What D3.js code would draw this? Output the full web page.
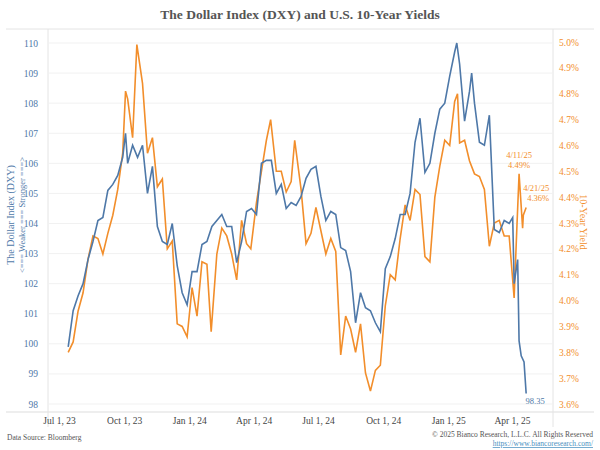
<!DOCTYPE html>
<html><head><meta charset="utf-8">
<script src="https://cdn.jsdelivr.net/npm/d3@7"></script>
<style>body{margin:0;background:#fff}svg{font-family:"Liberation Serif","DejaVu Serif",serif}</style>
</head><body><svg id="c" width="600" height="450"></svg>
<script>
const dxyDates=["2023-07-14","2023-07-21","2023-07-28","2023-08-04","2023-08-11","2023-08-18","2023-08-25","2023-09-01","2023-09-08","2023-09-15","2023-09-22","2023-09-29","2023-10-03","2023-10-06","2023-10-13","2023-10-20","2023-10-27","2023-11-03","2023-11-10","2023-11-17","2023-11-24","2023-12-01","2023-12-08","2023-12-15","2023-12-22","2023-12-29",
"2024-01-05","2024-01-12","2024-01-19","2024-01-26","2024-02-02","2024-02-09","2024-02-16","2024-02-23","2024-03-01","2024-03-08","2024-03-15","2024-03-22","2024-03-29","2024-04-05","2024-04-12","2024-04-19","2024-04-26","2024-05-03","2024-05-10","2024-05-17","2024-05-24","2024-05-31","2024-06-07","2024-06-14","2024-06-21","2024-06-28","2024-07-05","2024-07-12","2024-07-19","2024-07-26","2024-08-02","2024-08-09","2024-08-16","2024-08-23","2024-08-30","2024-09-06","2024-09-13","2024-09-20","2024-09-27","2024-10-04","2024-10-11","2024-10-18","2024-10-25","2024-11-01","2024-11-08","2024-11-15","2024-11-22","2024-11-29","2024-12-06","2024-12-13","2024-12-20","2024-12-27",
"2025-01-03","2025-01-10","2025-01-13","2025-01-17","2025-01-24","2025-01-31","2025-02-03","2025-02-07","2025-02-14","2025-02-21","2025-02-28","2025-03-07","2025-03-14","2025-03-21","2025-03-28","2025-04-02","2025-04-04","2025-04-09","2025-04-11","2025-04-14","2025-04-18","2025-04-21"];
const dxyValues=[99.9,101.1,101.6,102.0,102.8,103.4,104.1,104.2,105.1,105.3,105.6,106.2,107.0,106.0,106.6,106.2,106.6,105.0,105.9,103.9,103.4,103.3,104.0,102.6,101.7,101.3,
102.4,102.4,103.3,103.4,103.9,104.1,104.3,103.9,103.9,102.7,103.4,104.4,104.5,104.3,106.0,106.1,106.1,105.0,105.3,104.5,104.7,104.6,104.9,105.5,105.8,105.9,104.9,104.1,104.4,104.3,103.2,103.1,102.4,100.7,101.7,101.2,101.1,100.7,100.4,102.5,102.9,103.5,104.3,104.3,105.0,106.7,107.5,105.7,106.0,107.0,107.8,108.0,
108.9,109.7,110.0,109.3,107.4,108.4,109.0,108.0,106.7,106.6,107.6,103.8,103.7,104.1,104.0,104.2,102.0,102.8,100.1,99.6,99.4,98.35];
const ylDates=["2023-07-14","2023-07-21","2023-07-28","2023-08-04","2023-08-11","2023-08-18","2023-08-25","2023-09-01","2023-09-08","2023-09-15","2023-09-22","2023-09-29","2023-10-03","2023-10-06","2023-10-13","2023-10-19","2023-10-27","2023-11-03","2023-11-10","2023-11-17","2023-11-24","2023-12-01","2023-12-08","2023-12-15","2023-12-22","2023-12-29",
"2024-01-05","2024-01-12","2024-01-19","2024-01-26","2024-02-01","2024-02-09","2024-02-16","2024-02-23","2024-03-01","2024-03-08","2024-03-15","2024-03-22","2024-03-28","2024-04-05","2024-04-12","2024-04-19","2024-04-25","2024-05-03","2024-05-10","2024-05-17","2024-05-24","2024-05-29","2024-06-07","2024-06-14","2024-06-21","2024-06-28","2024-07-05","2024-07-12","2024-07-19","2024-07-26","2024-08-02","2024-08-09","2024-08-16","2024-08-23","2024-08-30","2024-09-06","2024-09-13","2024-09-20","2024-09-27","2024-10-04","2024-10-11","2024-10-18","2024-10-25","2024-11-01","2024-11-08","2024-11-15","2024-11-22","2024-11-29","2024-12-06","2024-12-13","2024-12-20","2024-12-27",
"2025-01-03","2025-01-10","2025-01-14","2025-01-17","2025-01-24","2025-01-31","2025-02-07","2025-02-14","2025-02-21","2025-02-28","2025-03-07","2025-03-14","2025-03-21","2025-03-28","2025-04-04","2025-04-08","2025-04-11","2025-04-16","2025-04-17","2025-04-21"];
const ylValues=[3.80,3.84,3.96,4.03,4.16,4.25,4.24,4.18,4.26,4.33,4.43,4.57,4.81,4.78,4.63,4.99,4.84,4.57,4.63,4.44,4.47,4.20,4.23,3.91,3.90,3.86,
4.05,3.94,4.15,4.14,3.88,4.18,4.28,4.25,4.18,4.08,4.31,4.22,4.20,4.38,4.50,4.62,4.70,4.50,4.50,4.42,4.46,4.62,4.43,4.22,4.26,4.36,4.27,4.18,4.24,4.19,3.79,3.94,3.89,3.80,3.91,3.72,3.65,3.73,3.75,3.98,4.10,4.08,4.24,4.37,4.31,4.43,4.41,4.17,4.15,4.40,4.52,4.62,
4.60,4.77,4.80,4.61,4.62,4.54,4.49,4.48,4.43,4.21,4.30,4.31,4.25,4.25,4.01,4.29,4.49,4.28,4.33,4.36];
const xTicks=["2023-07-01","2023-10-01","2024-01-01","2024-04-01","2024-07-01","2024-10-01","2025-01-01","2025-04-01"];
const xTickLabels=["Jul 1, 23","Oct 1, 23","Jan 1, 24","Apr 1, 24","Jul 1, 24","Oct 1, 24","Jan 1, 25","Apr 1, 25"];
const leftTicks=[98,99,100,101,102,103,104,105,106,107,108,109,110];
const rightTicks=[3.6,3.7,3.8,3.9,4.0,4.1,4.2,4.3,4.4,4.5,4.6,4.7,4.8,4.9,5.0];

const P=d3.timeParse("%Y-%m-%d");
const svg=d3.select("#c");
const blue="#4e78a8", orange="#f28e2b";
const L=48,R=553,T=29,B=412;
const x=d3.scaleTime().domain([P("2023-07-01"),P("2025-04-01")]).range([59,512]);
const yL=d3.scaleLinear().domain([98,110]).range([404,43]);
const yR=d3.scaleLinear().domain([3.6,5.0]).range([404,42]);

svg.append("text").attr("x",300).attr("y",19).attr("text-anchor","middle").attr("font-size",13.5).attr("font-weight","bold").attr("fill","#555").text("The Dollar Index (DXY)  and U.S. 10-Year Yields");
svg.append("line").attr("x1",6).attr("x2",594).attr("y1",T).attr("y2",T).attr("stroke","#e4e4e4");
svg.append("line").attr("x1",6).attr("x2",594).attr("y1",B).attr("y2",B).attr("stroke","#ddd").attr("stroke-width",1.2);
svg.append("line").attr("x1",L).attr("x2",L).attr("y1",T).attr("y2",427).attr("stroke","#e4e4e4");
svg.append("line").attr("x1",R).attr("x2",R).attr("y1",T).attr("y2",427).attr("stroke","#e4e4e4");
svg.append("g").selectAll("line").data(leftTicks).join("line").attr("x1",L).attr("x2",R).attr("y1",d=>yL(d)).attr("y2",d=>yL(d)).attr("stroke","#f1f1f1");

const gl=svg.append("g").attr("transform",`translate(${L},0)`).call(d3.axisLeft(yL).tickValues(leftTicks).tickSize(0).tickPadding(10).tickFormat(d3.format("d")));
gl.select(".domain").remove();
gl.selectAll("text").attr("fill",blue).attr("font-size",9.5).attr("font-family","Liberation Serif,serif");
const gr=svg.append("g").attr("transform",`translate(${R},0)`).call(d3.axisRight(yR).tickValues(rightTicks).tickSize(0).tickPadding(6).tickFormat(d=>d.toFixed(1)+"%"));
gr.select(".domain").remove();
gr.selectAll("text").attr("fill",orange).attr("font-size",9.5).attr("font-family","Liberation Serif,serif");
const gx=svg.append("g").attr("transform",`translate(0,${B})`).call(d3.axisBottom(x).tickValues(xTicks.map(P)).tickSize(0).tickPadding(5).tickFormat((d,i)=>xTickLabels[i]));
gx.select(".domain").remove();
gx.selectAll("text").attr("fill","#444").attr("font-size",9.5).attr("font-family","Liberation Serif,serif");

svg.append("text").attr("transform","translate(14,215) rotate(-90)").attr("text-anchor","middle").attr("font-size",10).attr("fill",blue).text("The Dollar Index (DXY)");
svg.append("text").attr("transform","translate(25,215) rotate(-90)").attr("text-anchor","middle").attr("font-size",8.5).attr("fill",blue).text("<=== Weaker === Stronger ===>");
svg.append("text").attr("transform","translate(580,222) rotate(90)").attr("text-anchor","middle").attr("font-size",10).attr("fill",orange).text("10-Year Yield");

const dY=ylDates.map((d,i)=>[P(d),ylValues[i]]);
const dD=dxyDates.map((d,i)=>[P(d),dxyValues[i]]);
svg.append("path").datum(dY).attr("fill","none").attr("stroke",orange).attr("stroke-width",1.6).attr("d",d3.line().x(d=>x(d[0])).y(d=>yR(d[1])));
svg.append("path").datum(dD).attr("fill","none").attr("stroke",blue).attr("stroke-width",1.6).attr("d",d3.line().x(d=>x(d[0])).y(d=>yL(d[1])));

const ann=(t,xx,yy,c,a)=>svg.append("text").attr("x",xx).attr("y",yy).attr("text-anchor",a||"middle").attr("font-size",8.5).attr("fill",c).text(t);
const a1=P("2025-04-11"), a2=P("2025-04-21");
ann("4/11/25",x(a1),yR(4.49)-16,orange);ann("4.49%",x(a1),yR(4.49)-6,orange);
ann("4/21/25",x(a2)+23,yR(4.36)-16,orange,"end");ann("4.36%",x(a2)+23,yR(4.36)-6,orange,"end");
ann("98.35",x(a2)+9,yL(98.35)+11,blue);

svg.append("text").attr("x",7).attr("y",440).attr("font-size",7.5).attr("fill","#555").text("Data Source: Bloomberg");
svg.append("text").attr("x",593).attr("y",437).attr("text-anchor","end").attr("font-size",7.5).attr("fill","#555").text("© 2025 Bianco Research, L.L.C. All Rights Reserved");
svg.append("text").attr("x",593).attr("y",446).attr("text-anchor","end").attr("font-size",7.5).attr("fill","#4a90c0").attr("text-decoration","underline").text("https://www.biancoresearch.com/");
</script></body></html>
